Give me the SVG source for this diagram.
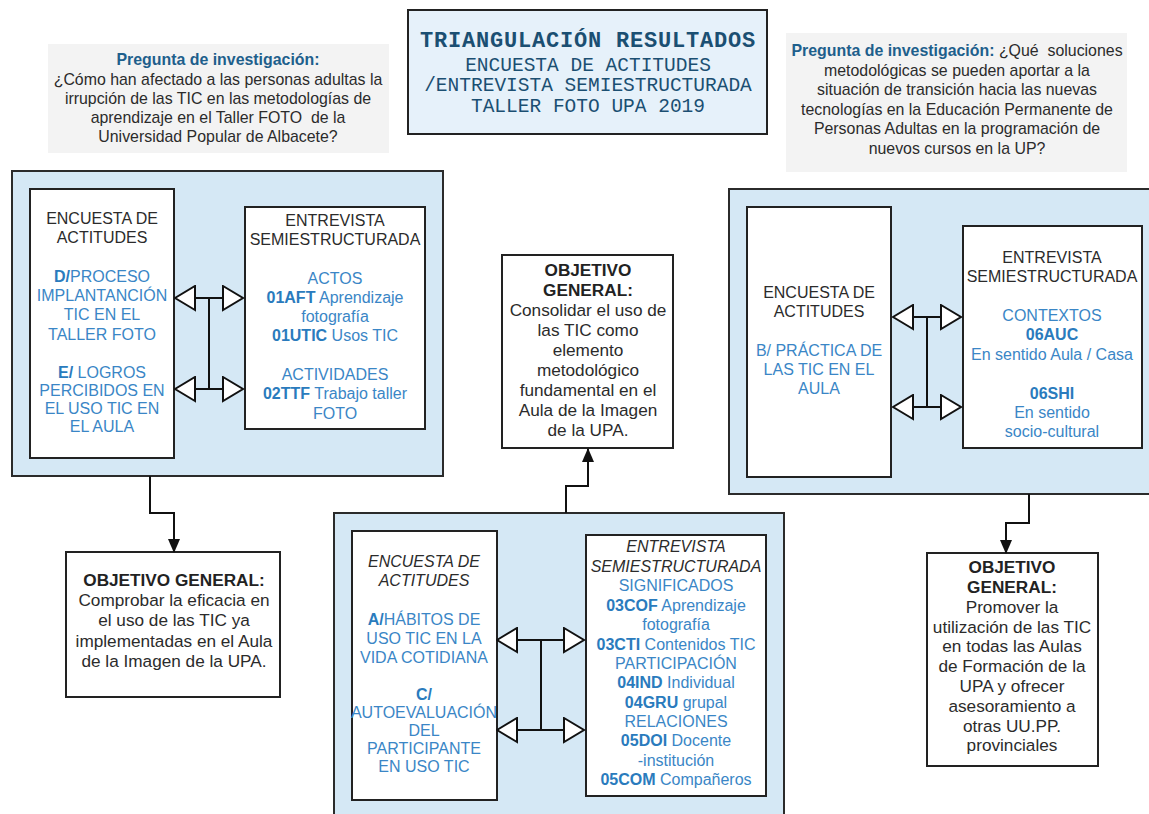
<svg xmlns="http://www.w3.org/2000/svg" width="1149" height="814" viewBox="0 0 1149 814">
<style>
text{font-family:"Liberation Sans",Arial,sans-serif;font-size:16px;text-anchor:middle;dominant-baseline:central;fill:#333}
.t{font-family:"Liberation Mono",monospace;fill:#1b4f72}
.tb{font-size:22px;font-weight:bold;letter-spacing:0.8px}
.ts{font-size:19.5px}
.q{font-size:15.9px;fill:#2b2b2b}
.qh{font-weight:bold;fill:#1e5f8c}
.b{fill:#3a86c6}
.bb{font-weight:bold;fill:#2a7bbd}
.d{fill:#2b2b2b}
.o{font-size:17.2px}
.i{font-style:italic}
.h{font-weight:bold;fill:#222}
.panel{fill:#d5e8f5;stroke:#2b2b2b;stroke-width:2}
.box{fill:#fff;stroke:#222;stroke-width:2}
.qbox{fill:#f3f3f3}
.tbox{fill:#e6f1fa;stroke:#222;stroke-width:2}
.c{fill:none;stroke:#111;stroke-width:2}
</style>
<defs>
<marker id="hol" viewBox="0 0 23 27" refX="21.5" refY="13.5" markerWidth="23" markerHeight="27" markerUnits="userSpaceOnUse" orient="auto-start-reverse">
<path d="M1.5,1.5 L21.5,13.5 L1.5,25.5 Z" fill="#fff" stroke="#111" stroke-width="2"/>
</marker>
<marker id="fil" viewBox="0 0 14 12" refX="13" refY="6" markerWidth="14" markerHeight="12" markerUnits="userSpaceOnUse" orient="auto">
<path d="M0,0 L14,6 L0,12 Z" fill="#111"/>
</marker>
</defs>
<rect width="1149" height="814" fill="#fff"/>

<g id="title">
<rect class="tbox" x="408" y="10" width="359" height="124"/>
<text class="t tb" x="588" y="41.5">TRIANGULACIÓN RESULTADOS</text>
<text class="t ts" x="588" y="65.5">ENCUESTA DE ACTITUDES</text>
<text class="t ts" x="588" y="86">/ENTREVISTA SEMIESTRUCTURADA</text>
<text class="t ts" x="588" y="106.5">TALLER FOTO UPA 2019</text>
</g>

<g id="pregunta-izq">
<rect class="qbox" x="48" y="44" width="341" height="109"/>
<text class="q qh" x="218" y="59">Pregunta de investigación:</text>
<text class="q" x="218" y="79">¿Cómo han afectado a las personas adultas la</text>
<text class="q" x="218" y="98">irrupción de las TIC en las metodologías de</text>
<text class="q" x="218" y="117">aprendizaje en el Taller FOTO&#160; de la</text>
<text class="q" x="218" y="136">Universidad Popular de Albacete?</text>
</g>

<g id="pregunta-der">
<rect class="qbox" x="786" y="33" width="341" height="139"/>
<text class="q" x="957" y="50"><tspan class="qh">Pregunta de investigación:</tspan> ¿Qué&#160; soluciones</text>
<text class="q" x="957" y="70">metodológicas se pueden aportar a la</text>
<text class="q" x="957" y="89">situación de transición hacia las nuevas</text>
<text class="q" x="957" y="109">tecnologías en la Educación Permanente de</text>
<text class="q" x="957" y="128">Personas Adultas en la programación de</text>
<text class="q" x="957" y="148">nuevos cursos en la UP?</text>
</g>

<g id="panel-izq">
<rect class="panel" x="12" y="171" width="431" height="305"/>
</g>
<g id="encuesta-izq">
<rect class="box" x="30" y="189" width="144" height="269"/>
<text class="d" x="102" y="218">ENCUESTA DE</text>
<text class="d" x="102" y="237">ACTITUDES</text>
<text class="b" x="102" y="276"><tspan class="bb">D/</tspan>PROCESO</text>
<text class="b" x="102" y="295">IMPLANTANCIÓN</text>
<text class="b" x="102" y="314">TIC EN EL</text>
<text class="b" x="102" y="334">TALLER FOTO</text>
<text class="b" x="102" y="372"><tspan class="bb">E/</tspan> LOGROS</text>
<text class="b" x="102" y="390">PERCIBIDOS EN</text>
<text class="b" x="102" y="408">EL USO TIC EN</text>
<text class="b" x="102" y="426">EL AULA</text>
</g>
<g id="entrevista-izq">
<rect class="box" x="245" y="207" width="180" height="222"/>
<text class="d" x="335" y="220">ENTREVISTA</text>
<text class="d" x="335" y="239">SEMIESTRUCTURADA</text>
<text class="b" x="335" y="278">ACTOS</text>
<text class="b" x="335" y="297"><tspan class="bb">01AFT</tspan> Aprendizaje</text>
<text class="b" x="335" y="316">fotografía</text>
<text class="b" x="335" y="335"><tspan class="bb">01UTIC</tspan> Usos TIC</text>
<text class="b" x="335" y="374">ACTIVIDADES</text>
<text class="b" x="335" y="393"><tspan class="bb">02TTF</tspan> Trabajo taller</text>
<text class="b" x="335" y="413">FOTO</text>
</g>

<g id="objetivo-izq">
<rect class="box" x="66" y="552" width="214" height="145"/>
<text class="h o" x="174" y="580">OBJETIVO GENERAL:</text>
<text class="d o" x="174" y="600">Comprobar la eficacia en</text>
<text class="d o" x="174" y="620">el uso de las TIC ya</text>
<text class="d o" x="174" y="641">implementadas en el Aula</text>
<text class="d o" x="174" y="661">de la Imagen de la UPA.</text>
</g>

<g id="objetivo-centro">
<rect class="box" x="502" y="255" width="171" height="193"/>
<text class="h o" x="588" y="270">OBJETIVO</text>
<text class="h o" x="588" y="290">GENERAL:</text>
<text class="d o" x="588" y="310">Consolidar el uso de</text>
<text class="d o" x="588" y="330">las TIC como</text>
<text class="d o" x="588" y="350">elemento</text>
<text class="d o" x="588" y="370">metodológico</text>
<text class="d o" x="588" y="390">fundamental en el</text>
<text class="d o" x="588" y="410">Aula de la Imagen</text>
<text class="d o" x="588" y="430">de la UPA.</text>
</g>

<g id="panel-der">
<rect class="panel" x="729" y="189" width="430" height="305"/>
</g>
<g id="encuesta-der">
<rect class="box" x="747" y="207" width="144" height="270"/>
<text class="d" x="819" y="292">ENCUESTA DE</text>
<text class="d" x="819" y="311">ACTITUDES</text>
<text class="b" x="819" y="350">B/ PRÁCTICA DE</text>
<text class="b" x="819" y="369">LAS TIC EN EL</text>
<text class="b" x="819" y="388">AULA</text>
</g>
<g id="entrevista-der">
<rect class="box" x="963" y="226" width="179" height="222"/>
<text class="d" x="1052" y="257">ENTREVISTA</text>
<text class="d" x="1052" y="276">SEMIESTRUCTURADA</text>
<text class="b" x="1052" y="315">CONTEXTOS</text>
<text class="bb" x="1052" y="334">06AUC</text>
<text class="b" x="1052" y="354">En sentido Aula / Casa</text>
<text class="bb" x="1052" y="393">06SHI</text>
<text class="b" x="1052" y="412">En sentido</text>
<text class="b" x="1052" y="431">socio-cultural</text>
</g>

<g id="objetivo-der">
<rect class="box" x="927" y="553" width="171" height="213"/>
<text class="h o" x="1012" y="567">OBJETIVO</text>
<text class="h o" x="1012" y="587">GENERAL:</text>
<text class="d o" x="1012" y="607">Promover la</text>
<text class="d o" x="1012" y="627">utilización de las TIC</text>
<text class="d o" x="1012" y="646">en todas las Aulas</text>
<text class="d o" x="1012" y="666">de Formación de la</text>
<text class="d o" x="1012" y="686">UPA y ofrecer</text>
<text class="d o" x="1012" y="706">asesoramiento a</text>
<text class="d o" x="1012" y="726">otras UU.PP.</text>
<text class="d o" x="1012" y="745">provinciales</text>
</g>

<g id="panel-centro">
<rect class="panel" x="334" y="513" width="450" height="310"/>
</g>
<g id="encuesta-centro">
<rect class="box" x="352" y="531" width="145" height="269"/>
<text class="d i" x="424" y="561">ENCUESTA DE</text>
<text class="d i" x="424" y="580">ACTITUDES</text>
<text class="b" x="424" y="619"><tspan class="bb">A/</tspan>HÁBITOS DE</text>
<text class="b" x="424" y="638">USO TIC EN LA</text>
<text class="b" x="424" y="657">VIDA COTIDIANA</text>
<text class="bb" x="424" y="694">C/</text>
<text class="b" x="424" y="712">AUTOEVALUACIÓN</text>
<text class="b" x="424" y="730">DEL</text>
<text class="b" x="424" y="748">PARTICIPANTE</text>
<text class="b" x="424" y="766">EN USO TIC</text>
</g>
<g id="entrevista-centro">
<rect class="box" x="586" y="535" width="180" height="261"/>
<text class="d i" x="676" y="546">ENTREVISTA</text>
<text class="d i" x="676" y="566">SEMIESTRUCTURADA</text>
<text class="b" x="676" y="585">SIGNIFICADOS</text>
<text class="b" x="676" y="605"><tspan class="bb">03COF</tspan> Aprendizaje</text>
<text class="b" x="676" y="624">fotografía</text>
<text class="b" x="676" y="644"><tspan class="bb">03CTI</tspan> Contenidos TIC</text>
<text class="b" x="676" y="663">PARTICIPACIÓN</text>
<text class="b" x="676" y="682"><tspan class="bb">04IND</tspan> Individual</text>
<text class="b" x="676" y="702"><tspan class="bb">04GRU</tspan> grupal</text>
<text class="b" x="676" y="721">RELACIONES</text>
<text class="b" x="676" y="740"><tspan class="bb">05DOI</tspan> Docente</text>
<text class="b" x="676" y="760">-institución</text>
<text class="b" x="676" y="779"><tspan class="bb">05COM</tspan> Compañeros</text>
</g>

<g id="connectors">
<path class="c" d="M209,298 V389"/>
<path class="c" d="M175,298 H243" marker-start="url(#hol)" marker-end="url(#hol)"/>
<path class="c" d="M175,389 H243" marker-start="url(#hol)" marker-end="url(#hol)"/>
<path class="c" d="M927,317 V407"/>
<path class="c" d="M893,317 H961" marker-start="url(#hol)" marker-end="url(#hol)"/>
<path class="c" d="M893,407 H961" marker-start="url(#hol)" marker-end="url(#hol)"/>
<path class="c" d="M541,640 V730"/>
<path class="c" d="M497,640 H584" marker-start="url(#hol)" marker-end="url(#hol)"/>
<path class="c" d="M497,730 H584" marker-start="url(#hol)" marker-end="url(#hol)"/>
<path class="c" d="M150,476 V513 H174 V552" marker-end="url(#fil)"/>
<path class="c" d="M566,513 V486 H588 V449" marker-end="url(#fil)"/>
<path class="c" d="M1029,494 V523 H1006 V553" marker-end="url(#fil)"/>
</g>
</svg>
